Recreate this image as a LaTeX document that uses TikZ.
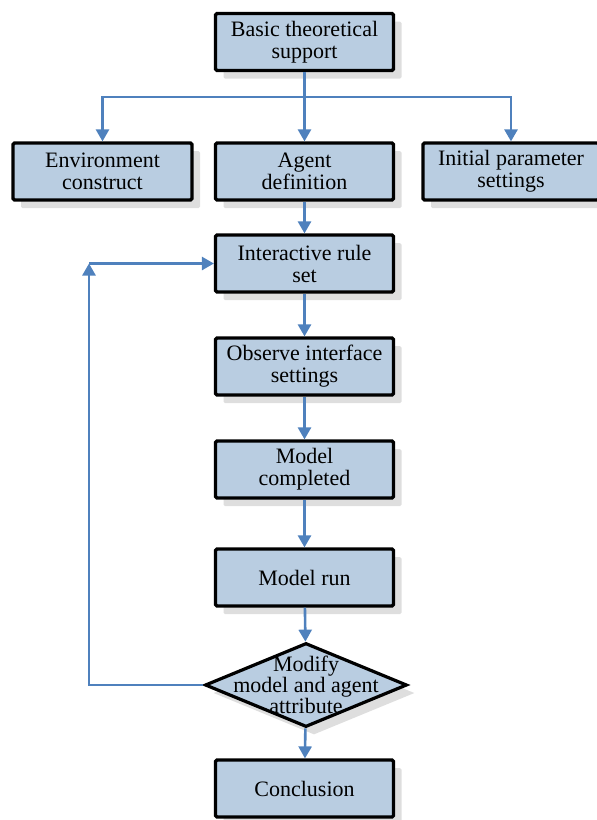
\documentclass[tikz,border=0pt]{standalone}
\usepackage{fontspec}
\setmainfont{Liberation Serif}
\usetikzlibrary{shapes.geometric,arrows.meta,shadows}
\definecolor{boxfill}{RGB}{185,205,225}
\definecolor{flowblue}{RGB}{79,129,189}

\begin{document}
\begin{tikzpicture}[x=1pt,y=-1pt,
  stage/.style={draw=black,line width=3.2pt,fill=boxfill,rounded corners=1.5pt,
    minimum width=178pt,minimum height=57pt,align=center,inner sep=2pt,
    font=\fontsize{22}{22}\selectfont,
    drop shadow={shadow xshift=8pt,shadow yshift=-8pt,fill=black!13,opacity=1}},
  choice/.style={diamond,draw=black,line width=3.2pt,fill=boxfill,
    minimum width=202pt,minimum height=84pt,inner sep=0pt,
    drop shadow={shadow xshift=8pt,shadow yshift=-8pt,fill=black!13,opacity=1}},
  flowline/.style={draw=flowblue,line width=2.6pt},
  flow/.style={flowline,-{Triangle[width=13pt,length=12pt]}}]
\useasboundingbox (0,0) rectangle (597,820);

    % Draw the boxes
\node[stage] (basis) at (304.5,42) {Basic theoretical\\support};
\node[stage,minimum width=179pt] (envir) at (102.5,171.5) {Environment\\construct};
\node[stage] (agent) at (304.5,171.5) {Agent\\definition};
\node[stage,minimum width=176pt] (param) at (511,171.5) {Initial parameter\\settings};
\node[stage] (rules) at (304.5,263.5) {Interactive rule\\set};
\node[stage] (observe) at (304.5,366.5) {Observe interface\\settings};
\node[stage] (complete) at (304.5,469.5) {Model\\completed};
\node[stage] (run) at (304.5,577.5) {Model run};
\node[choice,label={[font=\fontsize{22}{17}\selectfont,align=center]center:{Modify\\model and agent\\attribute}}] (modify) at (306,685) {};
\node[stage] (conclude) at (304.5,788.5) {Conclusion};

    % Draw the connectors
\coordinate (fork) at (304.5,97);
\draw[flowline] (basis) -- (fork);
\draw[flow] (fork) -- (agent);
\draw[flow] (fork) -| (envir);
\draw[flow] (fork) -| (param);
\foreach \a/\b in {agent/rules,rules/observe,observe/complete,complete/run,run/modify,modify/conclude}
  {\draw[flow] (\a) -- (\b);}
\coordinate (loop) at (89,263.5);
\draw[flow] (modify.west) -| (loop);
\draw[flow] (loop) -- (rules);
\end{tikzpicture}
\end{document}
